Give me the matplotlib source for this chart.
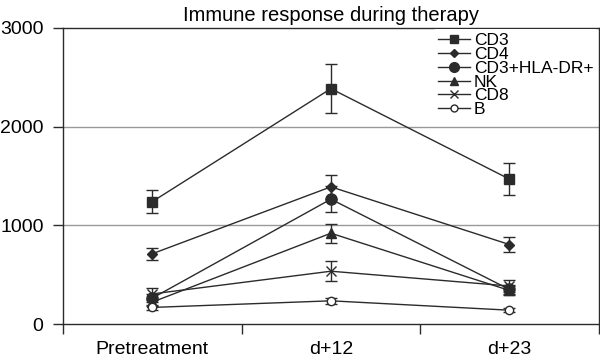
import matplotlib
matplotlib.use("Agg")
import matplotlib.pyplot as plt
from matplotlib.lines import Line2D

plt.rcParams["font.family"] = ["Liberation Sans", "DejaVu Sans"]

# Categories and series
timepoints = ["Pretreatment", "d+12", "d+23"]
series_names = ["CD3", "CD4", "CD3+HLA-DR+", "NK", "CD8", "B"]

cd3 = [1240, 2385, 1468]
cd3_err = [115, 245, 160]
cd4 = [712, 1390, 805]
cd4_err = [60, 120, 75]
cd3_hla = [262, 1265, 350]
cd3_hla_err = [40, 135, 50]
nk = [222, 920, 340]
nk_err = [35, 95, 45]
cd8 = [305, 535, 385]
cd8_err = [60, 100, 60]
b_cells = [168, 235, 140]
b_err = [25, 30, 20]

values = [cd3, cd4, cd3_hla, nk, cd8, b_cells]
errors = [cd3_err, cd4_err, cd3_hla_err, nk_err, cd8_err, b_err]
markers = ["s", "D", "o", "^", "x", "o"]
msizes = [7, 5, 8, 7, 7, 6]

fig = plt.figure(figsize=(6, 3.63), dpi=100)
ax = fig.add_axes([0.105, 0.1074, 0.893, 0.8156])

line_col = "#2b2b2b"
x = list(range(len(timepoints)))
handles = []
for name, vals, errs, m, ms in zip(series_names, values, errors, markers, msizes):
    face = "white" if name == "B" else line_col
    ax.errorbar(x, vals, yerr=errs, color=line_col, marker=m, markersize=ms,
                markerfacecolor=face, markeredgecolor=line_col, linewidth=1,
                elinewidth=1, capsize=4, capthick=1, zorder=3)
    handles.append(Line2D([], [], color=line_col, marker=m, markersize=ms - 1,
                          markerfacecolor=face, markeredgecolor=line_col,
                          linewidth=1, label=name))

ax.set_xlim(-0.5, 2.5)
ax.set_ylim(0, 3000)
ax.set_yticks([0, 1000, 2000, 3000])
ax.set_xticks(x)
ax.set_xticklabels(timepoints)
ax.set_xticks([-0.5, 0.5, 1.5, 2.5], minor=True)
ax.tick_params(axis="x", which="major", length=0, labelsize=14, pad=12)
ax.tick_params(axis="x", which="minor", length=7, width=1, color=line_col)
ax.tick_params(axis="y", length=7, width=1, color=line_col, labelsize=14, pad=7)

for yv in [1000, 2000]:
    ax.axhline(yv, color="#999999", linewidth=1, zorder=1)

for s in ax.spines.values():
    s.set_color(line_col)
    s.set_linewidth(1)

ax.set_title("Immune response during therapy", fontsize=14.5, pad=5)

leg = ax.legend(handles=handles, loc="upper right", fontsize=12.5, frameon=True,
                framealpha=1, edgecolor="white", labelspacing=-0.08,
                handlelength=1.9, handletextpad=0.2, borderpad=0.25,
                borderaxespad=0.05)
leg.get_frame().set_linewidth(0)

fig.savefig("out.png", dpi=100)
